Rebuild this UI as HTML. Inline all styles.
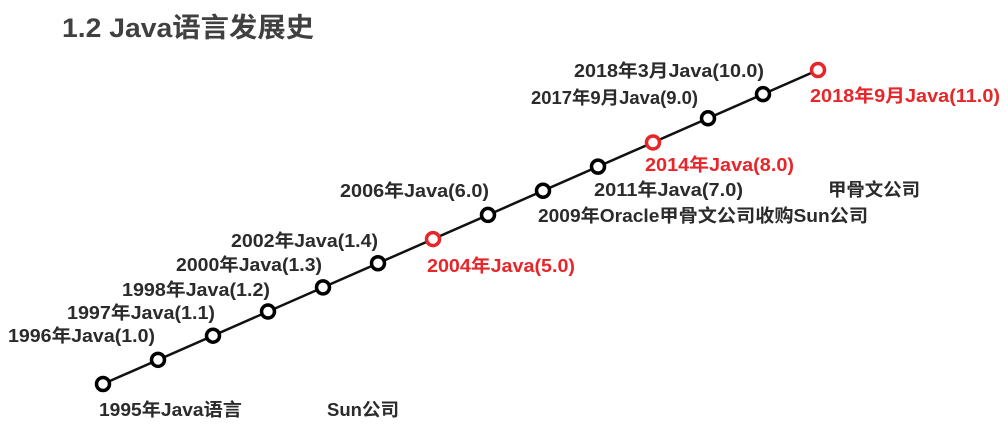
<!DOCTYPE html>
<html><head><meta charset="utf-8"><style>
html,body{margin:0;padding:0;background:#fff;}
svg{display:block;}
text{font-family:"Liberation Sans","Noto Sans CJK SC",sans-serif;font-weight:bold;font-size:18px;fill:#2b2b2b;}
</style></head><body>
<svg id="chart" width="1008" height="427" viewBox="0 0 1008 427">
<text x="62" y="37" style="font-size:27px;fill:#404040" textLength="252" lengthAdjust="spacingAndGlyphs">1.2 Java语言发展史</text>
<g id="marks"></g>
</svg>
<script>
// milestone index along timeline (0..13)
const steps = [0,1,2,3,4,5,6,7,8,9,10,11,12,13];
const highlight = [false,false,false,false,false,false,true,false,false,false,true,false,false,true];
const labels = [
 ["1996年Java(1.0)",8,336,147,false],
 ["1997年Java(1.1)",67,313,148,false],
 ["1998年Java(1.2)",122,290,148,false],
 ["2000年Java(1.3)",176,265,146,false],
 ["2002年Java(1.4)",231,241,147,false],
 ["2004年Java(5.0)",427,266,148,true],
 ["2006年Java(6.0)",340,191,149,false],
 ["2009年Oracle甲骨文公司收购Sun公司",538,216,330,false],
 ["2011年Java(7.0)",594,190,149,false],
 ["2014年Java(8.0)",645,165,149,true],
 ["甲骨文公司",828,190,92,false],
 ["2017年9月Java(9.0)",531,98,167,false],
 ["2018年3月Java(10.0)",574,71,190,false],
 ["2018年9月Java(11.0)",810,96,190,true],
 ["1995年Java语言",99,410,143,false],
 ["Sun公司",327,410,72,false]
];
const NS="http://www.w3.org/2000/svg";
const g=document.getElementById('marks');
function xS(i){return 103+i*(818-103)/13;}
function yS(i){return 384-i*(384-70)/13;}
const line=document.createElementNS(NS,'line');
line.setAttribute('x1',xS(steps[0]));line.setAttribute('y1',yS(steps[0]));
line.setAttribute('x2',xS(steps[steps.length-1]));line.setAttribute('y2',yS(steps[steps.length-1]));
line.setAttribute('stroke','#111');line.setAttribute('stroke-width','2.5');


g.appendChild(line);
steps.forEach((s,i)=>{
 const c=document.createElementNS(NS,'circle');
 c.setAttribute('cx',xS(s));c.setAttribute('cy',yS(s));c.setAttribute('r','6.5');
 c.setAttribute('fill','#fff');c.setAttribute('stroke',highlight[i]?'#e8262a':'#000');c.setAttribute('stroke-width','3.5');
 
 
 g.appendChild(c);
});
labels.forEach(l=>{
 const t=document.createElementNS(NS,'text');
 t.setAttribute('x',l[1]);t.setAttribute('y',l[2]+6);
 t.setAttribute('textLength',l[3]);t.setAttribute('lengthAdjust','spacingAndGlyphs');
 if(l[4])t.style.fill='#e8262a';
 t.textContent=l[0];
 
 
 g.appendChild(t);
});
</script>
</body></html>
